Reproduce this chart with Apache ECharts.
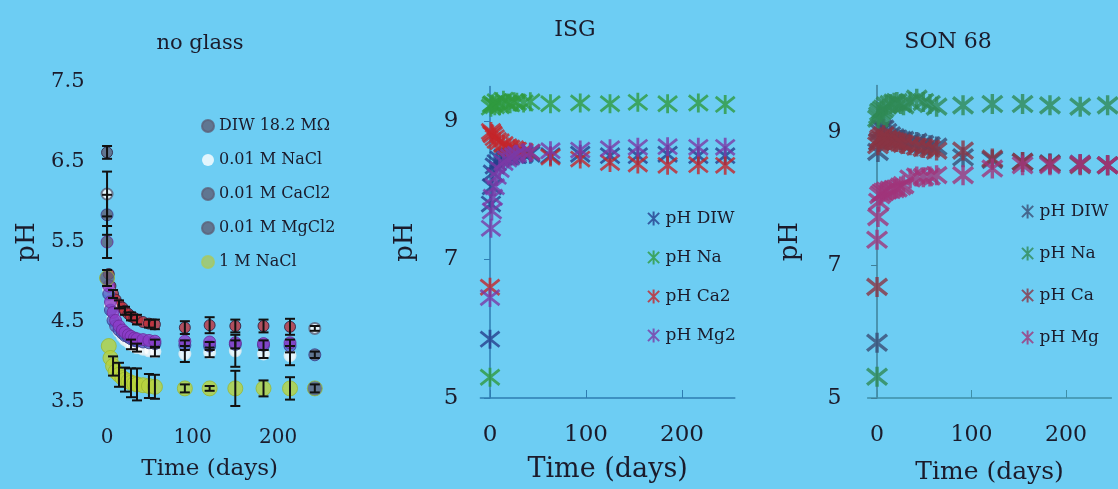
<!DOCTYPE html>
<html>
<head>
<meta charset="utf-8">
<script src="https://cdn.jsdelivr.net/npm/echarts@6/dist/echarts.min.js"></script>
<style>
  html, body { margin: 0; padding: 0; background: #6dcdf3; }
  #chart { width: 1118px; height: 489px; }
</style>
</head>
<body>
<div id="chart"></div>
<script>
// ---- no glass: pH of leachants (mean ± error) ----
const daysBlank  = [0, 2, 4, 7, 10, 14, 18, 21, 25, 28, 32, 35, 42, 49, 56, 91, 120, 150, 183, 214, 243];
const blankDIW   = [6.62, 5.10, 4.95, 4.85, 4.78, 4.72, 4.68, 4.64, 4.60, 4.57, 4.55, 4.53, 4.50, 4.48, 4.47, 4.43, 4.46, 4.45, 4.45, 4.44, null];
const blankNaCl  = [6.10, 4.90, 4.70, 4.55, 4.45, 4.38, 4.32, 4.28, 4.25, 4.22, 4.20, 4.18, 4.16, 4.14, 4.13, 4.10, 4.12, 4.14, 4.10, 4.08, 4.42];
const blankCaCl2 = [5.84, 4.85, 4.65, 4.52, 4.45, 4.40, 4.36, 4.33, 4.31, 4.29, 4.27, 4.26, 4.25, 4.24, 4.23, 4.21, 4.20, 4.22, 4.21, 4.20, 4.09];
const blankMgCl2 = [5.50, 4.95, 4.75, 4.62, 4.52, 4.45, 4.40, 4.37, 4.34, 4.32, 4.30, 4.29, 4.28, 4.27, 4.26, 4.26, 4.25, 4.24, 4.23, 4.24, null];
const blankNaCl1M= [5.05, 4.20, 4.05, 3.95, 3.88, 3.84, 3.80, 3.78, 3.76, 3.74, 3.73, 3.72, 3.71, 3.70, 3.69, 3.67, 3.67, 3.67, 3.67, 3.67, 3.67];
const errDIW   = [0.08, 0, 0, 0.05, 0, 0.05, 0, 0.05, 0, 0.05, 0, 0.06, 0, 0.05, 0.06, 0.08, 0.10, 0.08, 0.08, 0.10, 0];
const errNaCl  = [0.28, 0, 0, 0, 0, 0, 0, 0, 0, 0.06, 0, 0.05, 0, 0, 0.06, 0.10, 0.06, 0.20, 0.05, 0.12, 0.03];
const errCaCl2 = [0.25, 0, 0, 0, 0, 0, 0, 0, 0, 0, 0, 0, 0, 0, 0.05, 0.06, 0.05, 0.05, 0.06, 0.08, 0.04];
const errMgCl2 = [0.20, 0, 0, 0, 0, 0, 0, 0, 0, 0, 0, 0, 0, 0, 0, 0, 0, 0, 0, 0, 0];
const errNaCl1M= [0.10, 0, 0, 0.12, 0, 0.15, 0, 0.15, 0, 0.18, 0, 0.20, 0, 0.15, 0.15, 0.05, 0.03, 0.22, 0.10, 0.14, 0.05];
const blankNames = ['DIW 18.2 MΩ', '0.01 M NaCl', '0.01 M CaCl2', '0.01 M MgCl2', '1 M NaCl'];

// ---- ISG ----
const daysISG = [0, 1, 2, 3, 5, 7, 10, 14, 18, 21, 25, 28, 35, 42, 63, 94, 125, 154, 185, 217, 245];
const isgDIW = [5.85, 7.80, 8.05, 8.25, 8.35, 8.40, 8.45, 8.48, 8.50, 8.50, 8.52, 8.50, 8.52, 8.52, 8.50, 8.52, 8.50, 8.50, 8.52, 8.50, 8.50];
const isgNa  = [5.30, 9.20, 9.24, 9.25, 9.22, 9.28, 9.22, 9.30, 9.26, 9.25, 9.28, 9.27, 9.26, 9.28, 9.25, 9.26, 9.25, 9.27, 9.25, 9.26, 9.24];
const isgCa2 = [6.60, 8.85, 8.82, 8.80, 8.76, 8.72, 8.70, 8.66, 8.63, 8.61, 8.60, 8.58, 8.56, 8.55, 8.48, 8.45, 8.40, 8.38, 8.36, 8.37, 8.36];
const isgMg2 = [6.45, 7.45, 7.70, 7.90, 8.05, 8.20, 8.30, 8.40, 8.45, 8.48, 8.50, 8.52, 8.54, 8.55, 8.57, 8.58, 8.60, 8.62, 8.63, 8.62, 8.62];
const isgNames = ['pH DIW', 'pH Na', 'pH Ca2', 'pH Mg2'];

// ---- SON 68 ----
const daysSON = [0, 1, 2, 3, 5, 7, 10, 14, 18, 21, 25, 28, 35, 42, 49, 56, 63, 91, 122, 154, 183, 215, 244];
const sonDIW = [5.83, 8.70, 8.85, 9.00, 9.05, 9.05, 9.00, 8.95, 8.92, 8.90, 8.88, 8.88, 8.85, 8.85, 8.82, 8.80, 8.78, 8.62, 8.58, 8.55, 8.53, 8.52, 8.50];
const sonNa  = [5.32, 9.20, 9.25, 9.30, 9.32, 9.35, 9.40, 9.42, 9.44, 9.45, 9.42, 9.40, 9.45, 9.50, 9.45, 9.42, 9.38, 9.40, 9.42, 9.42, 9.40, 9.38, 9.40];
const sonCa  = [6.67, 8.80, 8.85, 8.90, 8.92, 8.95, 8.90, 8.88, 8.86, 8.85, 8.84, 8.82, 8.80, 8.78, 8.76, 8.75, 8.72, 8.72, 8.60, 8.55, 8.52, 8.50, 8.50];
const sonMg  = [7.38, 7.72, 7.95, 8.05, 8.08, 8.10, 8.12, 8.13, 8.14, 8.15, 8.18, 8.20, 8.30, 8.33, 8.32, 8.33, 8.35, 8.35, 8.45, 8.50, 8.50, 8.52, 8.50];
const sonNames = ['pH DIW', 'pH Na', 'pH Ca', 'pH Mg'];

// tick labels
const blankXTicks = [0, 100, 200];
const phXTicks = [0, 100, 200];
const phYTicks = [5, 7, 9];

const FONT = 'DejaVu Serif';
const INK = '#1b1b2b';
const AXIS = '#2e7db2';
const GRAY = '#5d6078';
const STAR = 'path://M1,1L9,9M9,1L1,9M5,0L5,10';

const pairs = (xs, ys) => xs.map((x, i) => [x, ys[i]]).filter(p => p[1] != null);

// black I-beam error bars
function errorBars(xs, ys, es) {
  return {
    type: 'custom', xAxisIndex: 0, yAxisIndex: 0, z: 5, silent: true,
    data: xs.map((x, i) => [x, ys[i], es[i]]).filter(d => d[1] != null && d[2] > 0)
            .map(d => [d[0], d[1] - d[2], d[1] + d[2]]),
    encode: { x: 0, y: [1, 2] },
    renderItem: (params, api) => {
      const x = api.value(0);
      const top = api.coord([x, api.value(2)]);
      const bot = api.coord([x, api.value(1)]);
      const w = 5;
      const style = { stroke: '#111', lineWidth: 2 };
      return { type: 'group', children: [
        { type: 'line', shape: { x1: top[0], y1: top[1], x2: bot[0], y2: bot[1] }, style },
        { type: 'line', shape: { x1: top[0] - w, y1: top[1], x2: top[0] + w, y2: top[1] }, style },
        { type: 'line', shape: { x1: bot[0] - w, y1: bot[1], x2: bot[0] + w, y2: bot[1] }, style }
      ]};
    }
  };
}

const blankSpec = [
  { vals: blankDIW,    err: errDIW,    color: '#c0303a', symbol: 'circle',      size: 11, border: '#2a1a3a' },
  { vals: blankNaCl,   err: errNaCl,   color: '#e4eef2', symbol: 'emptyCircle', size: 11, border: '#7a8aa0' },
  { vals: blankCaCl2,  err: errCaCl2,  color: '#4c5cc4', symbol: 'circle',      size: 12, border: '#3a3a8a' },
  { vals: blankMgCl2,  err: errMgCl2,  color: '#8c3cc8', symbol: 'circle',      size: 12, border: '#6a2a9a' },
  { vals: blankNaCl1M, err: errNaCl1M, color: '#b9d23c', symbol: 'circle',      size: 15, border: '#9ab830' }
];
const edgeIdx = [0, daysBlank.length - 1];

const series = [];
blankSpec.forEach((s, k) => {
  series.push({
    name: 'a|' + blankNames[k], type: 'scatter', xAxisIndex: 0, yAxisIndex: 0, z: 3,
    symbol: s.symbol, symbolSize: s.size,
    data: pairs(daysBlank, s.vals),
    itemStyle: {
      color: (p) => edgeIdx.includes(daysBlank.indexOf(p.value[0])) ? GRAY : s.color,
      borderColor: s.border, borderWidth: s.symbol === 'emptyCircle' ? 2 : 1
    }
  });
});
blankSpec.forEach((s) => series.push(errorBars(daysBlank, s.vals, s.err)));

const isgSpec = [
  { vals: isgDIW, color: '#263f8c' },
  { vals: isgNa,  color: '#2f9a3e' },
  { vals: isgCa2, color: '#c4252b' },
  { vals: isgMg2, color: '#7a3aa6' }
];
isgSpec.forEach((s, k) => series.push({
  name: 'b|' + isgNames[k], type: 'scatter', xAxisIndex: 1, yAxisIndex: 1,
  symbol: STAR, symbolSize: 19, data: pairs(daysISG, s.vals),
  itemStyle: { color: 'rgba(0,0,0,0)', borderColor: s.color, borderWidth: 2.8 }
}));

const sonSpec = [
  { vals: sonDIW, color: '#3b4d74' },
  { vals: sonNa,  color: '#2f8a55' },
  { vals: sonCa,  color: '#8a3444' },
  { vals: sonMg,  color: '#a0357a' }
];
sonSpec.forEach((s, k) => series.push({
  name: 'c|' + sonNames[k], type: 'scatter', xAxisIndex: 2, yAxisIndex: 2,
  symbol: STAR, symbolSize: 20, data: pairs(daysSON, s.vals),
  itemStyle: { color: 'rgba(0,0,0,0)', borderColor: s.color, borderWidth: 3.4 }
}));

const txt = (size) => ({ fontFamily: FONT, fontSize: size, color: INK });
const stripName = (n) => n.replace(/^[a-z]\|/, '');

const option = {
  backgroundColor: '#6dcdf3',
  animation: false,
  title: [
    { text: 'no glass', left: 195, top: 28, textAlign: 'center', textStyle: { ...txt(21), fontWeight: 'normal' } },
    { text: 'ISG',      left: 570, top: 14, textAlign: 'center', textStyle: { ...txt(22), fontWeight: 'normal' } },
    { text: 'SON 68',   left: 943, top: 26, textAlign: 'center', textStyle: { ...txt(22), fontWeight: 'normal' } }
  ],
  grid: [
    { left: 98.5, top: 82,   width: 222.3, height: 320,   containLabel: false, outerBoundsMode: 'none' },
    { left: 480.4, top: 86.4, width: 254.4, height: 311.6, containLabel: false, outerBoundsMode: 'none' },
    { left: 867.6, top: 85.4, width: 243.8, height: 312.6, containLabel: false, outerBoundsMode: 'none' }
  ],
  xAxis: [
    { gridIndex: 0, type: 'value', min: -10, max: 250,
      name: 'Time (days)', nameLocation: 'middle', nameGap: 56, nameTextStyle: txt(23),
      axisLine: { show: false }, axisTick: { show: false }, splitLine: { show: false },
      axisLabel: { ...txt(20), margin: 26, customValues: blankXTicks } },
    { gridIndex: 1, type: 'value', min: -10, max: 255,
      name: 'Time (days)', nameLocation: 'middle', nameGap: 58, nameTextStyle: txt(27),
      axisLine: { show: true, lineStyle: { color: AXIS, width: 1.5 } },
      axisTick: { show: true, inside: true, length: 8, lineStyle: { color: AXIS }, customValues: phXTicks },
      splitLine: { show: false },
      axisLabel: { ...txt(23), margin: 26, customValues: phXTicks } },
    { gridIndex: 2, type: 'value', min: -10, max: 248,
      name: 'Time (days)', nameLocation: 'middle', nameGap: 62, nameTextStyle: txt(25),
      axisLine: { show: true, lineStyle: { color: '#3f8fa8', width: 1.5 } },
      axisTick: { show: true, inside: true, length: 8, lineStyle: { color: '#3f8fa8' }, customValues: phXTicks },
      splitLine: { show: false },
      axisLabel: { ...txt(22), margin: 26, customValues: phXTicks } }
  ],
  yAxis: [
    { gridIndex: 0, type: 'value', min: 3.5, max: 7.5, interval: 1,
      name: 'pH', nameLocation: 'middle', nameGap: 58, nameTextStyle: txt(26),
      axisLine: { show: false }, axisTick: { show: false }, splitLine: { show: false },
      axisLabel: { ...txt(21), margin: 14 } },
    { gridIndex: 1, type: 'value', min: 5, max: 9.5,
      name: 'pH', nameLocation: 'middle', nameGap: 62, nameTextStyle: txt(26),
      axisLine: { show: true, onZero: true, lineStyle: { color: AXIS, width: 1.5 } },
      axisTick: { show: true, length: 6, lineStyle: { color: AXIS }, customValues: phYTicks },
      splitLine: { show: false },
      axisLabel: { ...txt(23), margin: 22, customValues: phYTicks } },
    { gridIndex: 2, type: 'value', min: 5, max: 9.7,
      name: 'pH', nameLocation: 'middle', nameGap: 64, nameTextStyle: txt(26),
      axisLine: { show: true, onZero: true, lineStyle: { color: '#3f7f98', width: 1.5 } },
      axisTick: { show: true, length: 6, lineStyle: { color: '#3f7f98' }, customValues: phYTicks },
      splitLine: { show: false },
      axisLabel: { ...txt(22), margin: 26, customValues: phYTicks } }
  ],
  legend: [
    { orient: 'vertical', left: 196, top: 113, itemGap: 18, itemWidth: 12, itemHeight: 12,
      textStyle: txt(16), formatter: stripName,
      data: blankNames.map((n, k) => ({ name: 'a|' + n,
        itemStyle: k === 1 ? { color: 'rgba(0,0,0,0)', borderColor: GRAY, borderWidth: 2 }
                 : k === 4 ? { color: '#a8c860', borderColor: '#a8c860' }
                 : { color: GRAY, borderColor: GRAY } })) },
    { orient: 'vertical', left: 642, top: 205, itemGap: 22, itemWidth: 14, itemHeight: 14,
      textStyle: txt(17), formatter: stripName, data: isgNames.map(n => 'b|' + n) },
    { orient: 'vertical', left: 1016, top: 198, itemGap: 25, itemWidth: 14, itemHeight: 14,
      textStyle: txt(17), formatter: stripName, data: sonNames.map(n => 'c|' + n) }
  ],
  series
};

const chart = echarts.init(document.getElementById('chart'));
chart.setOption(option);
</script>
</body>
</html>
